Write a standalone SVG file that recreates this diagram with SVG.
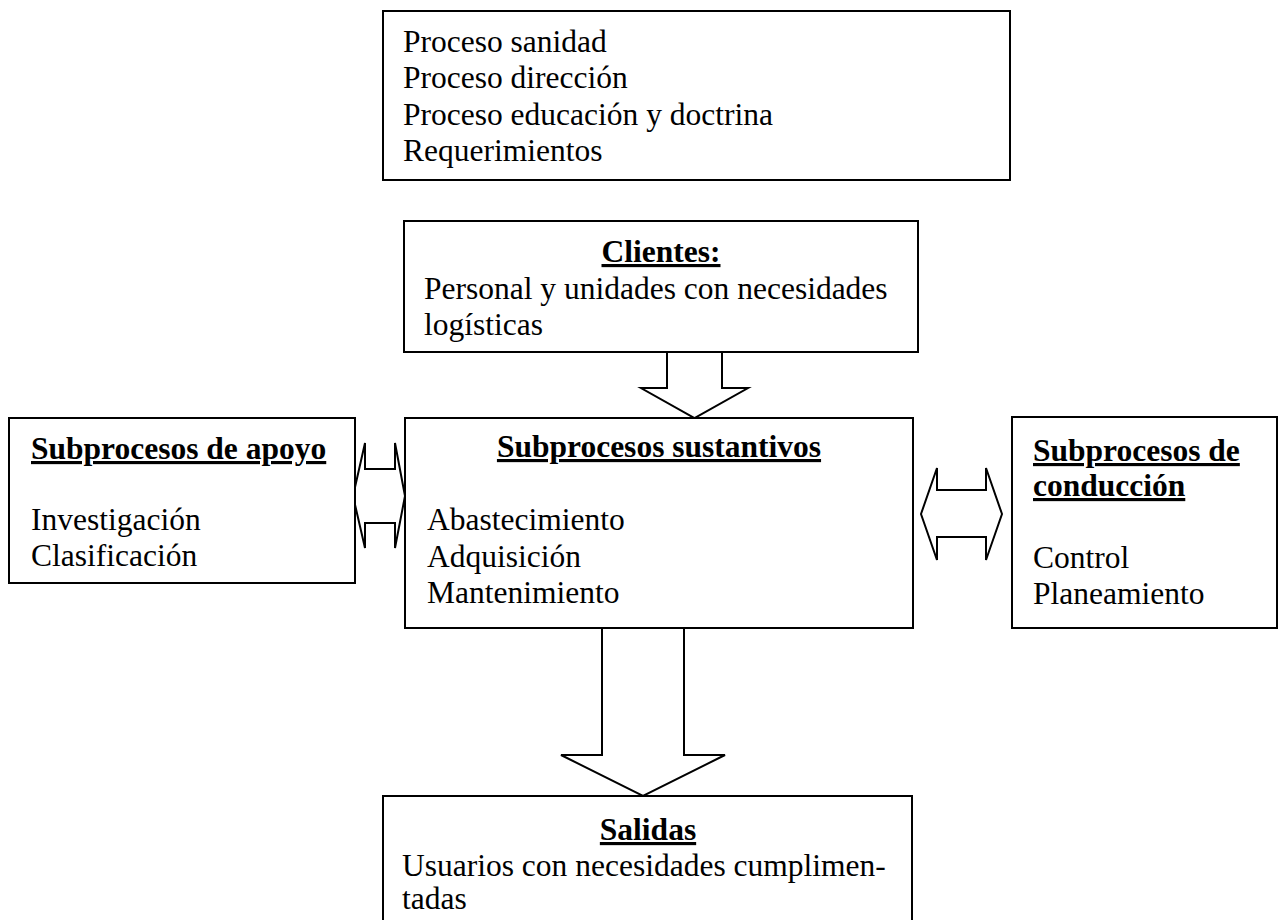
<svg xmlns="http://www.w3.org/2000/svg" width="1279" height="920" viewBox="0 0 1279 920">
<style>
.box{fill:#fff;stroke:#000;stroke-width:2}
.arr{fill:#fff;stroke:#000;stroke-width:2;stroke-linejoin:miter}
text{font-family:"Liberation Serif","Times New Roman",serif;font-size:31.5px;fill:#000}
.h{font-weight:bold;text-decoration:underline}
</style>
<rect width="1279" height="920" fill="#fff"/>
<g id="connectors">
<path class="arr" d="M667,352 V388 H641 L694.5,418 L748,388 H722 V352"/>
<path class="arr" d="M602,629 V755 H561 L643,796 L725,755 H684 V629"/>
<polygon class="arr" points="353,496 365,443 365,469 395,469 395,443 405,496 395,548 395,523 365,523 365,548"/>
<polygon class="arr" points="921,514 937,468 937,490 986,490 986,468 1002,514 986,560 986,537 937,537 937,560"/>
</g>
<g id="entradas">
<rect class="box" x="383" y="11" width="627" height="169"/>
<text x="403" y="52">Proceso sanidad</text>
<text x="403" y="88">Proceso dirección</text>
<text x="403" y="125">Proceso educación y doctrina</text>
<text x="403" y="161">Requerimientos</text>
</g>
<g id="clientes">
<rect class="box" x="404" y="221" width="514" height="131"/>
<text class="h" x="661" y="262" text-anchor="middle">Clientes:</text>
<text x="424" y="299">Personal y unidades con necesidades</text>
<text x="424" y="335">logísticas</text>
</g>
<g id="sustantivos">
<rect class="box" x="405" y="418" width="508" height="210"/>
<text class="h" x="659" y="457" text-anchor="middle">Subprocesos sustantivos</text>
<text x="427" y="530">Abastecimiento</text>
<text x="427" y="567">Adquisición</text>
<text x="427" y="603">Mantenimiento</text>
</g>
<g id="apoyo">
<rect class="box" x="9" y="418" width="346" height="165"/>
<text class="h" x="31" y="459">Subprocesos de apoyo</text>
<text x="31" y="530">Investigación</text>
<text x="31" y="566">Clasificación</text>
</g>
<g id="conduccion">
<rect class="box" x="1012" y="417" width="265" height="211"/>
<text class="h" x="1033" y="461">Subprocesos de</text>
<text class="h" x="1033" y="496">conducción</text>
<text x="1033" y="568">Control</text>
<text x="1033" y="604">Planeamiento</text>
</g>
<g id="salidas">
<rect class="box" x="383" y="796" width="529" height="140"/>
<text class="h" x="648" y="840" text-anchor="middle">Salidas</text>
<text x="402" y="876">Usuarios con necesidades cumplimen-</text>
<text x="402" y="909">tadas</text>
</g>
</svg>
